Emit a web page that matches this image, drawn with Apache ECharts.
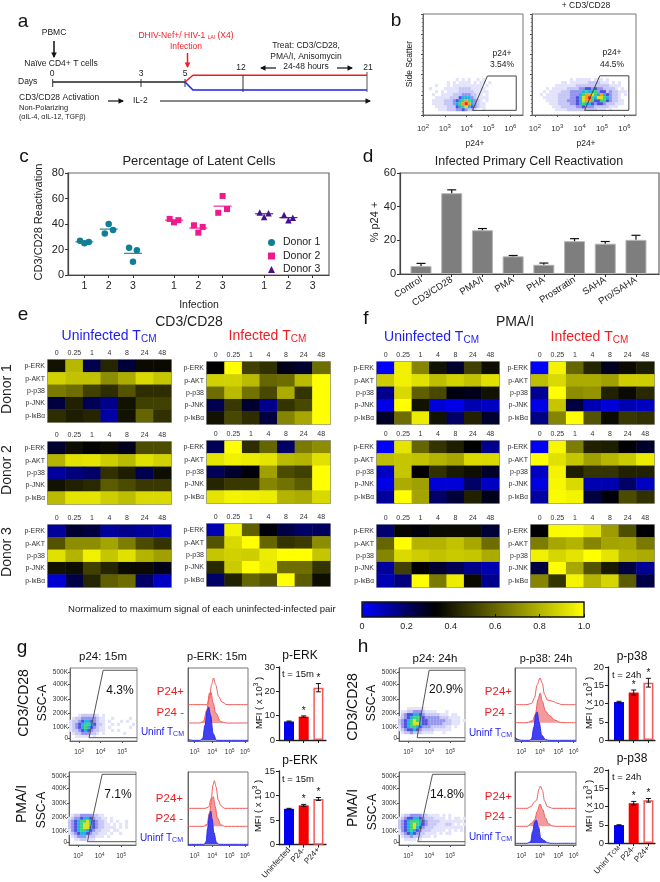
<!DOCTYPE html>
<html>
<head>
<meta charset="utf-8">
<style>html,body{margin:0;padding:0;background:#fff}#c{width:660px;height:882px}</style>
<script src="https://cdn.jsdelivr.net/npm/echarts@6/dist/echarts.min.js"></script>
</head>
<body>
<div id="c"></div>
<script>
// ---------- DATA ----------
const timePoints = ['0','0.25','1','4','8','24','48'];
const proteins = ['p-ERK','p-AKT','p-p38','p-JNK','p-IκBα'];

const eU1=[[.38,.81,.23,.43,.26,.36,.36],[.88,.84,.84,.70,.78,.90,.85],[.65,.62,.50,.45,.55,.45,.45],[.25,.42,.22,.15,.38,.50,.50],[.45,.41,.43,.12,.38,.60,.46]];
const eI1=[[.33,1,.50,.46,.30,.27,.62],[.88,.88,.82,.60,.62,.82,1],[.62,.82,.63,.52,.78,.47,1],[.23,.48,.27,.15,.47,.52,1],[.38,.52,.45,.25,.68,.77,1]];
const fU1=[[0,.96,.68,.38,.27,.50,.37],[.87,.96,.92,.83,.88,.84,.92],[.15,.90,.58,.52,.31,.30,.38],[.03,1,.38,.05,.03,.10,.08],[.28,.62,.95,.38,.20,.42,.27]];
const fI1=[[0,.97,.60,.43,.29,.36,.41],[.83,.90,.78,.78,.75,.87,.87],[.14,1,.70,.72,.42,.36,.44],[.03,.85,.25,.10,.05,.10,.08],[.16,.68,1,.55,.36,.48,.46]];
const eU2=[[.27,.37,.34,.36,.30,.53,.53],[.80,.92,.93,.87,.82,.92,.88],[.13,.17,.20,.46,.41,.23,.37],[.38,.42,.44,.57,.53,.48,.48],[.82,.93,.93,.87,.83,.90,.90]];
const eI2=[[.22,1,.45,.60,.20,.65,.70],[.93,.96,.95,.93,.82,.80,.92],[.22,.27,.32,.75,.53,.50,1],[.43,.48,.48,.68,.63,.57,1],[.93,.97,.96,.95,.80,.78,.90]];
const fU2=[[0,.93,.60,.47,.41,.33,.15],[.83,.85,.84,.80,.77,.90,.90],[.08,.85,.33,.46,.40,.37,.28],[.03,.78,.75,.05,.05,.20,.08],[.13,1,.76,.20,.26,.42,.30]];
const fI2=[[.01,.98,.66,.42,.41,.33,.28],[1,.92,.85,.75,.81,.86,.95],[.08,.97,.41,.47,.47,.42,.42],[.04,.98,.90,.10,.10,.20,.08],[.12,.99,.97,.25,.32,.53,.46]];
const eU3=[[.13,.27,.25,.13,.15,.13,.10],[.55,.70,.70,.76,.66,.53,.47],[.92,.80,.96,.85,.92,.80,.75],[.38,.37,.50,.43,.36,.36,.30],[.06,.24,.43,.58,.62,.20,.08]];
const eI3=[[.10,.97,.58,.32,.24,.20,.21],[.55,.90,1,.60,.47,.49,.70],[.85,.88,.87,.95,1,1,.85],[.44,.86,1,.94,.62,.62,.47],[.20,.42,.60,.55,1,.57,.37]];
const fU3=[[.19,.35,.32,.36,.36,.36,.26],[.60,1,.80,.80,.84,.77,.62],[.68,.90,.87,.84,.86,.85,.78],[.13,.50,.33,.27,.22,.15,.10],[.10,.17,1,.65,.95,.36,.15]];
const fI3=[[.33,.99,.99,.93,.74,.54,.33],[.66,.77,.80,.68,.76,.77,.65],[.96,.89,.93,1,.93,.80,.78],[.25,1,.77,.55,.40,.25,.14],[.68,.47,.97,.80,.89,.57,.24]];

// panel c
const infectionTicks=[1,2,3,4.69,5.69,6.69,8.4,9.4,10.4];
const infectionLabels=['1','2','3','1','2','3','1','2','3'];
const donor1=[[.82,26.8],[1,24.9],[1.18,25.9],[1.84,32.5],[2,40],[2.18,35.3],[2.84,21.3],[3,10.4],[3.16,19.5]];
const donor2=[[4.51,44],[4.69,41.3],[4.87,43],[5.51,39],[5.69,33.2],[5.87,37.7],[6.51,48.8],[6.69,62],[6.87,51.7]];
const donor3=[[8.22,49],[8.4,45.5],[8.58,48.5],[9.22,47],[9.4,43],[9.58,45]];
const donor1Means=[[1,26],[2,36],[3,17]];
const donor2Means=[[4.69,43],[5.69,36.8],[6.69,54]];
const donor3Means=[[8.4,48],[9.4,45]];

// panel d
const treatments=['Control','CD3/CD28','PMA/I','PMA','PHA','Prostratin','SAHA','Pro/SAHA'];
const treatmentVals=[4.7,48,26,10.5,5.5,19.5,18,20.3];
const treatmentErr=[1.6,2,1,.5,1,1.5,1.3,2.7];

// panels g, h bars
const gTopVals=[7.6,9.6,21.5],gTopErr=[.2,.3,1.7];
const gBotVals=[7.3,8.0,9.3],gBotErr=[.1,.2,.3];
const hTopVals=[10.4,13,15.7],hTopErr=[.2,.7,1.2];
const hBotVals=[4.9,10.9,11.7],hBotErr=[.1,.5,.5];
const gBarLabels=['Uninfected','P24-','P24+'];
const hBarLabels=['Uninf T{s|CM}','P24-','P24+'];

// histograms: [log10 signal, height]
const g1U=[[2.62,3],[2.75,1],[2.9,0],[3.3,0],[3.46,5],[3.59,45],[3.72,90],[3.8,100],[3.91,75],[4.06,20],[4.25,0],[6.05,0]];
const g1N=[[2.62,0],[3.3,0],[3.5,5],[3.7,40],[3.85,90],[3.93,92],[4.06,60],[4.2,30],[4.5,4],[4.8,0],[6.05,0]];
const g1P=[[2.62,0],[3.7,0],[3.85,20],[3.97,60],[4.08,80],[4.2,60],[4.37,25],[4.56,8],[4.85,0],[6.05,0]];
const g2U=[[2.62,0],[3.55,0],[3.65,8],[3.75,50],[3.85,90],[3.92,100],[4.0,75],[4.1,35],[4.25,5],[4.4,0],[6.05,0]];
const g2N=[[2.62,0],[3.5,0],[3.7,6],[3.85,40],[3.98,85],[4.07,89],[4.17,60],[4.3,25],[4.5,5],[4.7,0],[6.05,0]];
const g2P=[[2.62,0],[3.6,0],[3.8,4],[3.95,30],[4.05,70],[4.13,83],[4.22,65],[4.35,25],[4.5,8],[4.7,0],[6.05,0]];
const h1U=[[2.65,10],[2.75,4],[2.9,1],[3.0,0],[3.45,0],[3.55,5],[3.67,40],[3.78,80],[3.85,85],[3.95,55],[4.1,15],[4.3,2],[4.5,0],[5.95,0]];
const h1N=[[2.65,0],[3.3,0],[3.6,6],[3.75,25],[3.9,70],[4.02,89],[4.12,65],[4.3,35],[4.5,22],[4.8,8],[5.1,1],[5.3,0],[5.95,0]];
const h1P=[[2.65,0],[3.3,0],[3.55,4],[3.7,20],[3.85,60],[4.0,80],[4.12,65],[4.25,30],[4.4,14],[4.7,10],[4.9,5],[5.2,0],[5.95,0]];
const h2U=[[2.65,0],[3.3,0],[3.5,5],[3.6,35],[3.72,65],[3.8,70],[3.92,50],[4.05,15],[4.25,8],[4.4,2],[4.6,0],[5.95,0]];
const h2N=[[2.65,0],[3.3,0],[3.55,10],[3.72,20],[3.85,45],[4.0,67],[4.15,50],[4.3,25],[4.45,8],[4.7,1],[4.9,0],[5.95,0]];
const h2P=[[2.65,0],[3.3,0],[3.52,5],[3.68,18],[3.82,25],[3.95,58],[4.02,67],[4.13,55],[4.25,22],[4.4,5],[4.7,0],[5.95,0]];

// flow cytometry density levels (rows top to bottom)
const densB1=["..........1.1.1..1.1..",".......1.1.1111.1.11.1","...1...1.1111111111.1.",".1....11111222211111..","...1.1.11112222211111.","..1..11112223332211.1.","...111112224555321111.","..11112223456865321.1.","..111122235689853211..","...11112224567543211..","....1112223343221..1.."];
const densB2=["...........1.11111.111.1......","........11.1111112222111.1.1..","......1111111222222222221111..","...1.1111122223344343322221.1.","..1.11112223333565563442322111",".1.1111222233356887658543221.1","..11111222233457896577653221..","...11112223334578864466432211.","....1112222334565543443222111.",".....1112222233433322222111...","......11112222222222111.1....."];
const densG1=["...1222221.1............",".12233333211..1.....1...","122345543211.1...1.1....","123456654221..1.1....1..","123456543211.1......1...","122345432211..1.1.......",".122333221.1......1.....","..11111.1..............."];
const densG2=[".12233332211...........","1233455432211.1........","2345667543221.1.1..1...","23456776432211.1.1.1...","2345677543221111.1.1...","13456654322111.11......","1234554322111.1..1.....",".12333222111.1..........","..1122111.............."];
const densH1=["...111111...............",".112233321111...1.......",".2344554322222111.11....","123456654333332221111...","234567654433333322111.1.","234567754433333222111...","134566543332222211.1....","123445432222111111......",".12232221111...1........"];
const densH2=[".1223333221111.1.1......","1234455432221111.1.11.1..","2345666543222211111111.1.","2345676543222111221.1.1..","2345675432221111111111.1.","1345654322211111.1.1.1...","1234543221111.1.11.......",".1223222111.1............","..1111.1................."];
// gates [log10 signal, scatter]
const gateB1=[[4.27,.23],[4.95,1.93],[6.27,1.93],[6.27,.23],[4.27,.23]];
const gateB2=[[4.22,.23],[4.9,1.94],[6.2,1.94],[6.2,.23],[4.22,.23]];
const gateG1=[[5.7,4.72],[4.12,4.72],[3.46,.02],[5.7,.02]];
const gateG2=[[5.7,4.72],[4.12,4.72],[3.43,.02],[5.7,.02]];
const gateH1=[[5.7,4.72],[4.0,4.72],[3.43,.02],[5.7,.02]];
const gateH2=[[5.7,4.72],[4.16,4.72],[3.46,.02],[5.7,.02]];
const ssc=[[0,'0'],[.72,'100K'],[1.72,'200K'],[2.72,'300K'],[3.74,'400K'],[4.56,'500K']];

// ---------- BUILD ----------
const FF='"Liberation Sans", Arial, sans-serif';
const BLUE='#1c1cf5',RED='#f01c24';
const grids=[],xAxes=[],yAxes=[],series=[],gr=[],heatIdx=[];
const DENS=[null,'#e2e2fb','#c6c6f7','#9494ee','#4f4fe2','#1fb0e4','#3fd27a','#d8e020','#f5a020','#ee2a20'];

function T(x,y,text,o){o=o||{};gr.push({type:'text',x,y,rotation:o.rot||0,z:50,silent:true,
  style:{text,fontSize:o.s||9,fontFamily:FF,fill:o.c||'#222',align:o.a||'center',verticalAlign:'middle',rich:o.rich}});}
function L(pts,c,w){gr.push({type:'polyline',z:40,silent:true,shape:{points:pts},style:{stroke:c,lineWidth:w||1,fill:null}});}
function A(x1,y1,x2,y2,c,w){L([[x1,y1],[x2,y2]],c,w||1.3);
  const d=Math.hypot(x2-x1,y2-y1),ux=(x2-x1)/d,uy=(y2-y1)/d,h=4.5,b=2.8;
  gr.push({type:'polygon',z:41,silent:true,shape:{points:[[x2+ux,y2+uy],[x2-ux*h-uy*b,y2-uy*h+ux*b],[x2-ux*h+uy*b,y2-uy*h-ux*b]]},style:{fill:c}});}
function addGrid(l,t,r,b,extra){grids.push(Object.assign({left:l,top:t,width:r-l,height:b-t,containLabel:false},extra||{}));return grids.length-1;}

function heat(name,values,l,t,r,b){
  const gi=addGrid(l,t,r,b,{show:true,borderColor:'#777',borderWidth:1.6,backgroundColor:'transparent'});
  xAxes.push({gridIndex:gi,type:'category',position:'top',data:timePoints,axisLine:{show:false},axisTick:{show:false},splitLine:{show:false},
    axisLabel:{fontSize:7,color:'#333',margin:3,interval:0}});
  yAxes.push({gridIndex:gi,type:'category',inverse:true,data:proteins,axisLine:{show:false},axisTick:{show:false},splitLine:{show:false},
    axisLabel:{fontSize:7,color:'#333',margin:3,interval:0,formatter:v=>v==='p-IκBα'?'p-I{s|κ}B{s|α}':v,
      rich:{s:{fontSize:6.5,color:'#333',fontFamily:FF}}}});
  const data=[];values.forEach((row,j)=>row.forEach((v,i)=>data.push([i,j,v])));
  heatIdx.push(series.length);
  series.push({name,type:'heatmap',xAxisIndex:gi,yAxisIndex:gi,data,silent:true,progressive:0});
}

function flowAxes(gi,xmin,xmax,xticks,ymin,ymax,yticks,ylab,fs,margin,minor){
  const mt=minor?{show:true,splitNumber:5,length:1.2,lineStyle:{color:'#777'}}:{show:false};
  xAxes.push({gridIndex:gi,type:'value',min:xmin,max:xmax,splitLine:{show:false},minorTick:mt,axisLine:{show:true,onZero:false,lineStyle:{color:'#666'}},
    axisTick:{show:true,length:2,lineStyle:{color:'#555'},customValues:xticks},
    axisLabel:{fontSize:fs,color:'#333',margin:margin,customValues:xticks,formatter:v=>'10{s|'+Math.round(v)+'}',
      rich:{s:{fontSize:fs-2,color:'#333',fontFamily:FF,verticalAlign:'top',padding:[0,0,fs*.6,0]}}}});
  yAxes.push({gridIndex:gi,type:'value',min:ymin,max:ymax,splitLine:{show:false},minorTick:mt,axisLine:{show:true,onZero:false,lineStyle:{color:'#666'}},
    axisTick:{show:true,length:2,lineStyle:{color:'#555'},customValues:yticks},
    axisLabel:{show:!!ylab,fontSize:6.5,color:'#333',margin:2,customValues:yticks,formatter:v=>{const f=ylab&&ylab.find(p=>p[0]===v);return f?f[1]:'';}}});
}
function density(gi,rows,x0,dx,y0,dy,sz){
  const groups={};
  rows.forEach((row,j)=>row.split('').forEach((ch,i)=>{if(ch!=='.'){(groups[ch]=groups[ch]||[]).push([x0+i*dx,y0-j*dy]);}}));
  Object.keys(groups).sort().forEach(k=>series.push({type:'scatter',xAxisIndex:gi,yAxisIndex:gi,symbol:'rect',symbolSize:sz,silent:true,
    itemStyle:{color:DENS[+k],opacity:1},data:groups[k]}));
}
function gate(gi,pts,col){series.push({type:'line',xAxisIndex:gi,yAxisIndex:gi,data:pts,symbol:'none',silent:true,z:5,lineStyle:{color:col||'#444',width:1}});}

function hist(l,t,r,b,xmin,xmax,xticks,curveP,curveN,curveU,baseP,baseN,baseU){
  const gi=addGrid(l,t,r,b,{show:true,borderColor:'#777',borderWidth:1});
  flowAxes(gi,xmin,xmax,xticks,0,219,[],null,6.5,7);
  [[curveP,baseP,'#f05a5a',null],[curveN,baseN,'#f05a5a','#f59a9a'],[curveU,baseU,'#2a2af0','#4040f0']].forEach(c=>{
    const s={type:'line',xAxisIndex:gi,yAxisIndex:gi,symbol:'none',silent:true,smooth:.35,smoothMonotone:'x',
      lineStyle:{color:c[2],width:1},data:c[0].map(p=>[p[0],p[1]+c[1]])};
    if(c[3])s.areaStyle={color:c[3],opacity:1,origin:c[1]};
    series.push(s);
  });
}

function errBars(gi,xs,vals,errs,stars,both,lw,cap){
  series.push({type:'custom',xAxisIndex:gi,yAxisIndex:gi,silent:true,z:6,clip:false,
    data:xs.map((x,i)=>[x,vals[i],errs[i],stars?stars[i]:0]),
    encode:{x:0,y:1},
    renderItem:(p,api)=>{
      const x=api.value(0),v=api.value(1),e=api.value(2),st=api.value(3);
      const top=api.coord([x,v+e]),mid=api.coord([x,v]),low=api.coord([x,v-e]);
      const sty={stroke:'#111',lineWidth:lw,fill:null};
      const kids=[{type:'line',shape:{x1:top[0],y1:top[1],x2:top[0],y2:both?low[1]:mid[1]},style:sty},
        {type:'line',shape:{x1:top[0]-cap,y1:top[1],x2:top[0]+cap,y2:top[1]},style:sty}];
      if(both)kids.push({type:'line',shape:{x1:low[0]-cap,y1:low[1],x2:low[0]+cap,y2:low[1]},style:sty});
      if(st)kids.push({type:'text',x:top[0],y:top[1]-5,style:{text:'*',fontSize:10,fontFamily:FF,fill:'#111',align:'center',verticalAlign:'middle'}});
      return {type:'group',children:kids};
    }});
}

function bars(l,t,r,b,x0,sp,ymax,iv,vals,errs,labels){
  const gi=addGrid(l,t,r,b);
  const xs=vals.map((_,i)=>i);
  xAxes.push({gridIndex:gi,type:'value',min:(l-x0)/sp,max:(r-x0)/sp,splitLine:{show:false},axisLine:{show:true,onZero:false,lineStyle:{color:'#222',width:1.3}},
    axisTick:{show:true,length:3,lineStyle:{color:'#222'},customValues:xs},
    axisLabel:{show:!!labels,fontSize:8,color:'#222',rotate:48,margin:4,customValues:xs,formatter:v=>labels?labels[Math.round(v)]:'',
      rich:{s:{fontSize:6,color:'#222',fontFamily:FF}}}});
  yAxes.push({gridIndex:gi,type:'value',min:0,max:ymax,interval:iv,splitLine:{show:false},axisLine:{show:true,onZero:false,lineStyle:{color:'#222',width:1.3}},
    axisTick:{show:true,length:3,lineStyle:{color:'#222'}},axisLabel:{fontSize:9.5,color:'#222',margin:4}});
  const styles=[{color:'#0000f0'},{color:'#f40000'},{color:'#fff',borderColor:'#f25a5a',borderWidth:1.5}];
  series.push({type:'bar',xAxisIndex:gi,yAxisIndex:gi,barWidth:10,silent:true,
    data:vals.map((v,i)=>({value:[i,v],itemStyle:styles[i]}))});
  errBars(gi,xs,vals,errs,[0,1,1],true,1,2.5);
}

// ---- panel a (schematic) ----
T(23,22,'a',{s:19,c:'#111'});T(396,21,'b',{s:19,c:'#111'});T(24,157,'c',{s:19,c:'#111'});T(368,157,'d',{s:19,c:'#111'});
T(23,315,'e',{s:19,c:'#111'});T(366,319,'f',{s:19,c:'#111'});T(22,648,'g',{s:19,c:'#111'});T(363,647,'h',{s:19,c:'#111'});
T(54,33,'PBMC',{s:8.5});A(54,41,54,57,'#111',1.5);T(61,64,'Naïve CD4+ T cells',{s:8.5});
T(18,82,'Days',{s:8.5,a:'left'});
T(52,74,'0',{s:8.5});T(141,74,'3',{s:8.5});T(185,74,'5',{s:8.5});T(241,68,'12',{s:8.5});T(368,68,'21',{s:8.5});
L([[52.7,82],[185,82]],'#222',1.4);
[52.7,141,185].forEach(x=>L([[x,79],[x,87]],'#333',1));
L([[185,82],[193,75.3],[367,75.3]],'#f01c1c',1.5);L([[185,82],[193,90],[367,90]],'#2020e8',1.5);
L([[243,75],[243,92]],'#333',1);L([[367,72],[367,92]],'#555',1);
T(186,36,'DHIV-Nef+/ HIV-1 {s|LAI} (X4)',{s:8.5,c:RED,rich:{s:{fontSize:5,fontFamily:FF,fill:RED,padding:[3,0,0,0]}}});
T(186,47,'Infection',{s:8.5,c:RED});A(187.5,53,187.5,67,RED,1.5);
T(306,46,'Treat: CD3/CD28,',{s:8.5});T(306,57,'PMA/I, Anisomycin',{s:8.5});T(306,67,'24-48 hours',{s:8.5});
A(276,68,261,68,'#111',1.2);A(337,68,352,68,'#111',1.2);
T(19,98,'CD3/CD28 Activation',{s:8.5,a:'left'});T(19,108,'Non-Polarizing',{s:7.5,a:'left'});T(19,117.5,'(αIL-4, αIL-12, TGFβ)',{s:7,a:'left'});
A(108,101,123,101,'#111',1.2);T(133,101,'IL-2',{s:8.5,a:'left'});A(160,101,370,101,'#111',1.2);

// ---- panel b ----
const b1=addGrid(423,14,523,115,{show:true,borderColor:'#777',borderWidth:1});
flowAxes(b1,2,6.58,[2,3,4,5,6],0,5,[0,1,2,3,4,5],null,8,8,true);
density(b1,densB1,2.21,.136,1.75,.1485,3.1);gate(b1,gateB1);
const b2=addGrid(532,14,636,115,{show:true,borderColor:'#777',borderWidth:1});
flowAxes(b2,1.87,6.52,[2,3,4,5,6],0,5,[0,1,2,3,4,5],null,8,8,true);
density(b2,densB2,2.16,.134,1.75,.1485,3.1);gate(b2,gateB2);
T(410,64,'Side Scatter',{s:8.5,rot:Math.PI/2});T(475,144,'p24+',{s:8.5});T(586,144,'p24+',{s:8.5});T(586,6,'+ CD3/CD28',{s:8.5});
T(502,54,'p24+',{s:8.5});T(502,65,'3.54%',{s:8.5});T(612,53,'p24+',{s:8.5});T(612,65,'44.5%',{s:8.5});

// ---- panel c ----
const gc=addGrid(68,173,329,275,{show:true,borderColor:'#666',borderWidth:1.2});
xAxes.push({gridIndex:gc,type:'value',min:.325,max:11.07,splitLine:{show:false},axisLine:{show:true,onZero:false,lineStyle:{color:'#444',width:1.2}},
  axisTick:{show:true,length:3,lineStyle:{color:'#333'},customValues:infectionTicks},
  axisLabel:{fontSize:10.5,color:'#222',margin:6,customValues:infectionTicks,formatter:v=>infectionLabels[infectionTicks.indexOf(v)]}});
yAxes.push({gridIndex:gc,type:'value',min:0,max:80,interval:20,splitLine:{show:false},axisLine:{show:true,onZero:false,lineStyle:{color:'#444',width:1.2}},
  axisTick:{show:true,length:3,lineStyle:{color:'#333'}},axisLabel:{fontSize:11,color:'#222',margin:4}});
[['Donor 1','circle','#0f7f95',donor1,donor1Means],['Donor 2','rect','#f0198c',donor2,donor2Means],['Donor 3','triangle','#44108e',donor3,donor3Means]].forEach(d=>{
  series.push({name:d[0],type:'scatter',xAxisIndex:gc,yAxisIndex:gc,symbol:d[1],symbolSize:d[1]==='rect'?6:6.5,itemStyle:{color:d[2],opacity:1},silent:true,data:d[3]});
  series.push({type:'scatter',xAxisIndex:gc,yAxisIndex:gc,symbol:'rect',symbolSize:[18,1.1],itemStyle:{color:d[2],opacity:1},silent:true,data:d[4]});
});
T(199,161,'Percentage of Latent Cells',{s:13});T(39,222,'CD3/CD28 Reactivation',{s:11,rot:Math.PI/2});T(199,305,'Infection',{s:10.5});

// ---- panel d ----
const gd=addGrid(400,173,659,274,{show:true,borderColor:'#666',borderWidth:1.2});
const tx=treatments.map((_,i)=>i);
xAxes.push({gridIndex:gd,type:'value',min:-.684,max:7.75,splitLine:{show:false},axisLine:{show:true,onZero:false,lineStyle:{color:'#444',width:1.2}},
  axisTick:{show:true,length:3,lineStyle:{color:'#333'},customValues:tx},
  axisLabel:{fontSize:9.5,color:'#222',rotate:33,margin:5,customValues:tx,formatter:v=>treatments[Math.round(v)]}});
yAxes.push({gridIndex:gd,type:'value',min:0,max:60,interval:20,splitLine:{show:false},axisLine:{show:true,onZero:false,lineStyle:{color:'#444',width:1.2}},
  axisTick:{show:true,length:3,lineStyle:{color:'#333'}},axisLabel:{fontSize:11,color:'#222',margin:4}});
series.push({type:'bar',xAxisIndex:gd,yAxisIndex:gd,barWidth:21,silent:true,itemStyle:{color:'#7e7e7e',borderColor:'#b5b5b5',borderWidth:1},data:treatmentVals.map((v,i)=>[i,v])});
errBars(gd,tx,treatmentVals,treatmentErr,null,false,1.2,4.5);
T(529,162,'Infected Primary Cell Reactivation',{s:12.5});T(375,222,'% p24 +',{s:11,rot:Math.PI/2});

// ---- panels e, f ----
T(189,322,'CD3/CD28',{s:14});T(515,322,'PMA/I',{s:14});
[[109,BLUE,'Uninfected'],[267.5,RED,'Infected'],[431.5,BLUE,'Uninfected'],[589.5,RED,'Infected']].forEach(h=>
  T(h[0],h[0]<330?336:337,h[2]+' T{s|CM}',{s:14,c:h[1],rich:{s:{fontSize:10,fontFamily:FF,fill:h[1],padding:[6,0,0,0]}}}));
T(7,389,'Donor 1',{s:14,rot:Math.PI/2});T(7,470,'Donor 2',{s:14,rot:Math.PI/2});T(7,552,'Donor 3',{s:14,rot:Math.PI/2});
heat('eU1',eU1,48,360,171,422);heat('eI1',eI1,207,362,330,424);heat('fU1',fU1,377,362,499,424);heat('fI1',fI1,531,362,654,424);
heat('eU2',eU2,48,442,171,504);heat('eI2',eI2,207,441,330,503);heat('fU2',fU2,377,441,499,503);heat('fI2',fI2,531,441,654,503);
heat('eU3',eU3,48,525,171,587);heat('eI3',eI3,207,524,330,586);heat('fU3',fU3,377,525,499,587);heat('fI3',fI3,531,525,654,587);

// colour bar axis
T(68,609,'Normalized to maximum signal of each uninfected-infected pair',{s:9.6,a:'left',c:'#222'});
const gb=addGrid(362,602,584,617,{show:true,borderColor:'#111',borderWidth:1.4,z:6});
xAxes.push({gridIndex:gb,type:'value',min:0,max:1,interval:.2,z:7,splitLine:{show:false},axisLine:{show:false},
  axisTick:{show:true,inside:true,length:3,lineStyle:{color:'#111'}},
  axisLabel:{fontSize:9,color:'#222',margin:5,formatter:v=>v===0?'0':v.toFixed(1)}});
yAxes.push({gridIndex:gb,type:'value',show:false,min:0,max:1});

// ---- panels g, h flow ----
function flowPlot(l,t,r,b,xmin,xmax,dens,x0,y0,gt){
  const gi=addGrid(l,t,r,b,{show:true,borderColor:'#888',borderWidth:1});
  flowAxes(gi,xmin,xmax,[3,4,5],-.21,4.88,ssc.map(p=>p[0]),ssc,6.5,7);
  density(gi,dens,x0,.14,y0,.21,3.1);gate(gi,gt,'#555');
}
flowPlot(70,668,137,741,2.57,5.7,densG1,2.6,1.58,gateG1);
flowPlot(69,772,136,845,2.57,5.7,densG2,2.6,1.86,gateG2);
flowPlot(399,668,465,741,2.57,5.7,densH1,2.6,2.05,gateH1);
flowPlot(399,772,465,845,2.57,5.7,densH2,2.6,1.86,gateH2);

hist(188,668,248,741,2.62,6.05,[3,4,5,5.87],g1P,g1N,g1U,109,54,2);
hist(188,772,248,845,2.62,6.05,[3,4,5,5.87],g2P,g2N,g2U,110,56,2);
hist(515,668,576,741,2.65,5.95,[3,4,5,5.82],h1P,h1N,h1U,109,55,2);
hist(515,772,576,845,2.65,5.95,[3,4,5,5.82],h2P,h2N,h2U,110,56,5);

bars(279,667,326,740,289,14.7,30,10,gTopVals,gTopErr,null);
bars(279,771,326,845,289,14.7,15,5,gBotVals,gBotErr,gBarLabels);
bars(608,667,655,740,619,14.7,20,5,hTopVals,hTopErr,null);
bars(608,770,655,843,619,14.7,20,5,hBotVals,hBotErr,hBarLabels);

const F=(x,y,t,s,rot)=>T(x,y,t,{s,rot:rot?Math.PI/2:0,c:'#111'});
F(24,703,'CD3/CD28',14,1);F(22,804,'PMA/I',14,1);F(43,703,'SSC-A',12,1);F(42,810,'SSC-A',12,1);
F(353,707,'CD3/CD28',14,1);F(353,808,'PMA/I',14,1);F(372,703,'SSC-A',12,1);F(373,812,'SSC-A',12,1);
F(103,657,'p24: 15m',11.5);F(217,657,'p-ERK: 15m',11);F(435,659,'p24: 24h',11.5);F(546,659,'p-p38: 24h',11);
F(120,691,'4.3%',12);F(118,795,'7.1%',12);F(446,690,'20.9%',12);F(447,795,'14.8%',12);
F(300,656,'p-ERK',12);F(300,761,'p-ERK',12);F(632,657,'p-p38',12);F(632,759,'p-p38',12);
[[282,674],[282,779],[612,675],[612,777]].forEach((p,i)=>T(p[0],p[1],i<2?'t = 15m':'t = 24h',{s:9.5,a:'left',c:'#111'}));
const sup={s:{fontSize:6.5,fontFamily:FF,fill:'#111',padding:[0,0,5,0]}};
[[259,703],[258,806],[589,703],[589,806]].forEach(p=>T(p[0],p[1],'MFI ( x 10{s|3} )',{s:9.5,rot:Math.PI/2,c:'#111',rich:sup}));
[[184,692,713,732],[183,799,819,838],[512,692,713,733],[512,797,817,837]].forEach(p=>{
  T(p[0],p[1],'P24+',{s:11.5,c:RED,a:'right'});T(p[0],p[2],'P24 -',{s:11.5,c:RED,a:'right'});
  T(p[0],p[3],'Uninf T{s|CM}',{s:10,c:BLUE,a:'right',rich:{s:{fontSize:7,fontFamily:FF,fill:BLUE,padding:[4,0,0,0]}}});
});

const option={
  animation:false,backgroundColor:'#fff',textStyle:{fontFamily:FF},
  grid:grids,xAxis:xAxes,yAxis:yAxes,series,graphic:gr,
  legend:{left:268,top:237,orient:'vertical',padding:0,itemGap:2.5,itemWidth:7,itemHeight:7,selectedMode:false,
    data:['Donor 1','Donor 2','Donor 3'],textStyle:{fontSize:10.5,color:'#222',fontFamily:FF,padding:[0,0,0,3]},z:20},
  visualMap:{type:'continuous',min:0,max:1,seriesIndex:heatIdx,dimension:2,calculable:false,hoverLink:false,show:true,
    orient:'horizontal',left:362,top:602,padding:0,itemWidth:15,itemHeight:222,text:null,
    inRange:{color:['#0000ff','#000000','#808000','#ffff00']}}
};
const chart=echarts.init(document.getElementById('c'),null,{renderer:'canvas',width:660,height:882});
chart.setOption(option);
</script>
</body>
</html>
